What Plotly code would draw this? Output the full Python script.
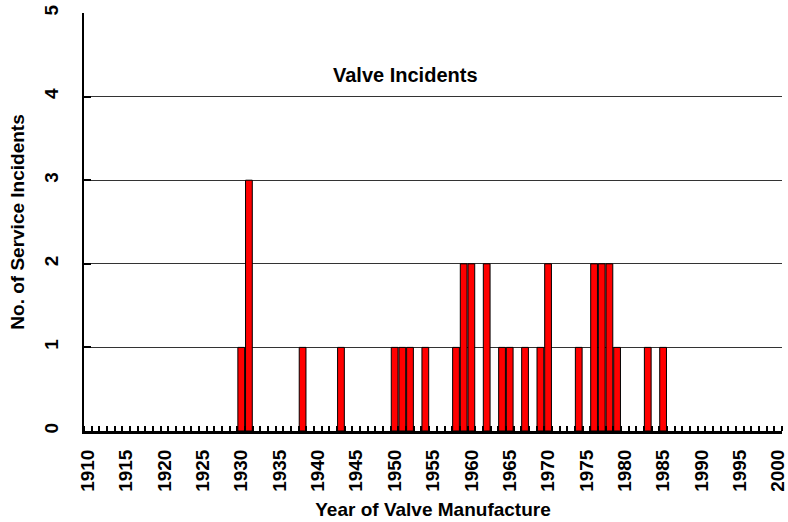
import plotly.graph_objects as go

# Service incidents by year of valve manufacture (years not listed had none)
years = [1930, 1931, 1938, 1943, 1950, 1951, 1952, 1954, 1958, 1959, 1960, 1962,
         1964, 1965, 1967, 1969, 1970, 1974, 1976, 1977, 1978, 1979, 1983, 1985]
incidents = [1, 3, 1, 1, 1, 1, 1, 1, 1, 2, 2, 2,
             1, 1, 1, 1, 2, 1, 2, 2, 2, 1, 1, 1]

year_ticks = list(range(1910, 2001, 5))
year_labels = [str(y) for y in year_ticks]
y_ticks = [0, 1, 2, 3, 4, 5]

FONT = "Liberation Sans, Arial, sans-serif"
AXIS_SIZE = 19

fig = go.Figure()
fig.add_trace(go.Bar(
    x=years,
    y=incidents,
    width=0.88,
    marker=dict(color="#ff0000", line=dict(color="#000000", width=1)),
    showlegend=False,
))

fig.update_layout(
    width=788,
    height=522,
    margin=dict(l=84, r=6, t=13, b=91),
    paper_bgcolor="white",
    plot_bgcolor="white",
    font=dict(family=FONT, size=AXIS_SIZE, color="black"),
    annotations=[dict(
        text="<b>Valve Incidents</b>",
        x=0.4606, y=0.852, xref="paper", yref="paper",
        xanchor="center", yanchor="middle", showarrow=False,
        font=dict(family=FONT, size=20, color="black"),
    )],
)

fig.update_xaxes(
    range=[1909.5, 2000.5],
    automargin=False,
    tickmode="array",
    tickvals=year_ticks,
    ticktext=[f"<b>{t}</b>" for t in year_labels],
    tickangle=-90,
    ticks="",
    ticklabelstandoff=8,
    ticklabeloverflow="allow",
    showgrid=False,
    zeroline=False,
    showline=True,
    linecolor="black",
    linewidth=3,
    minor=dict(
        tickmode="array",
        tickvals=[y + 0.5 for y in range(1909, 2001)],
        ticks="inside",
        ticklen=5,
        tickwidth=2,
        tickcolor="black",
        showgrid=False,
    ),
    title=dict(text="<b>Year of Valve Manufacture</b>", standoff=12,
               font=dict(family=FONT, size=AXIS_SIZE)),
    tickfont=dict(family=FONT, size=AXIS_SIZE),
)

fig.update_yaxes(
    range=[0, 5],
    automargin=False,
    tickmode="array",
    tickvals=y_ticks,
    ticktext=[f"<b>{t}</b>" for t in y_ticks],
    tickangle=-90,
    ticks="inside",
    ticklen=7,
    tickwidth=2,
    tickcolor="black",
    ticklabelstandoff=16,
    ticklabeloverflow="allow",
    showgrid=True,
    gridcolor="#333333",
    gridwidth=1,
    zeroline=False,
    showline=True,
    linecolor="black",
    linewidth=2,
    title=dict(text="<b>No. of Service Incidents</b>", standoff=12,
               font=dict(family=FONT, size=AXIS_SIZE)),
    tickfont=dict(family=FONT, size=AXIS_SIZE),
)

fig.write_html("out.html")
